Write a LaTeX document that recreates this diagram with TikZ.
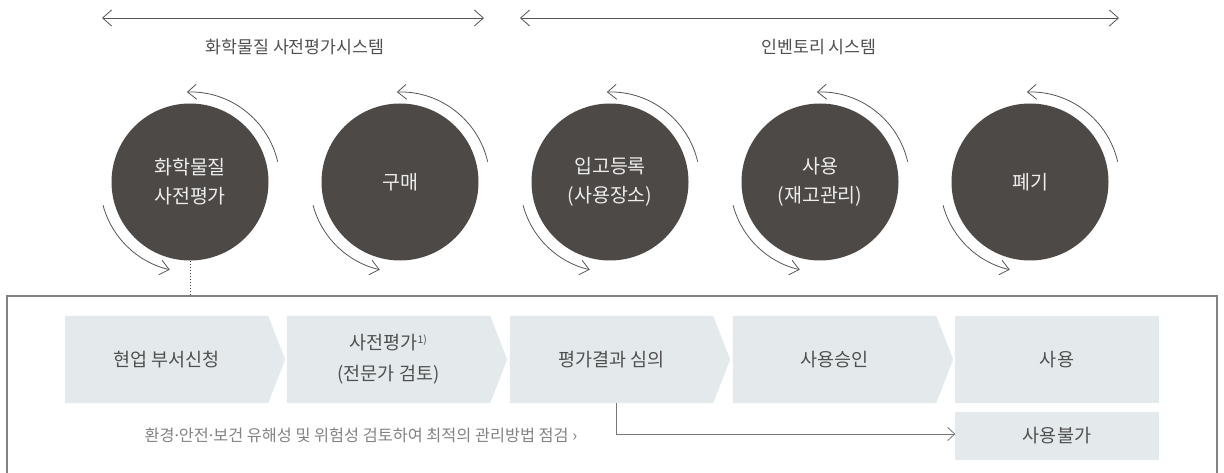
\documentclass[tikz,border=0pt]{standalone}
\usepackage{fontspec}
\setmainfont{Noto Sans CJK KR}
\newfontfamily\dotfont{Noto Sans}
\usetikzlibrary{arrows.meta,backgrounds}
\definecolor{circfill}{RGB}{77,73,71}
\definecolor{boxfill}{RGB}{228,233,235}
\definecolor{arcgray}{RGB}{85,85,85}
\definecolor{txtgray}{RGB}{80,80,80}
\definecolor{notegray}{RGB}{130,130,130}
\definecolor{framegray}{RGB}{130,130,130}
\newcommand{\mdot}{{\dotfont ·}}
\begin{document}
\begin{tikzpicture}[x=1pt,y=1pt,
  circ/.style={circle, fill=circfill, minimum size=157pt, inner sep=0pt, text=white!93!black, font=\fontsize{19.5}{29}\selectfont, align=center},
  cyc/.style={line width=0.8pt, draw=arcgray, -{Straight Barb[length=9pt,width=15pt]}},
  span/.style={line width=0.8pt, draw=arcgray, {Straight Barb[length=9pt,width=16pt]}-{Straight Barb[length=9pt,width=16pt]}},
  head/.style={text=txtgray, font=\fontsize{17.3}{20}\selectfont},
  stepbox/.style={minimum width=203pt, minimum height=87pt, inner sep=0pt, text=txtgray, font=\fontsize{18.5}{34}\selectfont, align=center},
  chev/.style={fill=boxfill},
  notetxt/.style={text=notegray, font=\fontsize{16.3}{18}\selectfont, anchor=west},
  link/.style={line width=0.8pt, draw=arcgray!80, -{Straight Barb[length=7pt,width=13pt]}}
]
\useasboundingbox (0,0) rectangle (1224,472);

% top spans
\coordinate (s1a) at (102,454); \coordinate (s1b) at (484,454);
\coordinate (s2a) at (520,454); \coordinate (s2b) at (1119,454);
\draw[span] (s1a) -- (s1b);
\draw[span] (s2a) -- (s2b);
\node[head] (h1) at (295,425) {화학물질 사전평가시스템};
\node[head] (h2) at (819,425) {인벤토리 시스템};

% circles
\node[circ] (c1) at (190,290) {화학물질\\사전평가};
\node[circ] (c2) at (400,290) {구매};
\node[circ] (c3) at (610,290) {입고등록\\(사용장소)};
\node[circ] (c4) at (820,290) {사용\\(재고관리)};
\node[circ] (c5) at (1030,290) {폐기};
\foreach \c in {c1,c2,c3,c4,c5}{
  \draw[cyc] ([shift={(13:90pt)}]\c.center) arc[start angle=13, end angle=92, radius=90pt];
  \draw[cyc] ([shift={(195:90pt)}]\c.center) arc[start angle=195, end angle=257, radius=90pt];
}

% frame
\draw[framegray, line width=1.5pt] (7,-2) -- (7,176) -- (1217,176) -- (1217,-2);
\coordinate (ftop) at (190,176);
\draw[black!75, line width=0.8pt, dash pattern=on 1.5pt off 1.5pt] (c1.south) -- (ftop);

% step boxes
\node[stepbox] (b1) at (166.5,112.5) {현업 부서신청};
\node[stepbox] (b2) at (388.5,112.5) {사전평가\textsuperscript{\fontsize{10.5}{10}\selectfont 1)}\\[-3pt](전문가 검토)};
\node[stepbox] (b3) at (611.5,112.5) {평가결과 심의};
\node[stepbox] (b4) at (834.5,112.5) {사용승인};
\node[stepbox] (b5) at (1057,112.5) {사용};
\node[stepbox, minimum height=48pt] (b6) at (1057,36) {사용불가};
\begin{scope}[on background layer]
  \foreach \b in {b1,b2,b3,b4}{
    \fill[chev] (\b.south west) -- (\b.north west) -- (\b.north east) -- ([xshift=17pt]\b.east) -- (\b.south east) -- cycle;
  }
  \fill[chev] (b5.south west) rectangle (b5.north east);
  \fill[chev] (b6.south west) rectangle (b6.north east);
\end{scope}

% note and link
\node[notetxt] (note) at (141,37) {환경\mdot 안전\mdot 보건 유해성 및 위험성 검토하여 최적의 관리방법 점검 ›};
\draw[link] ([xshift=4.5pt]b3.south) |- ([yshift=2pt]b6.west);
\end{tikzpicture}
\end{document}
